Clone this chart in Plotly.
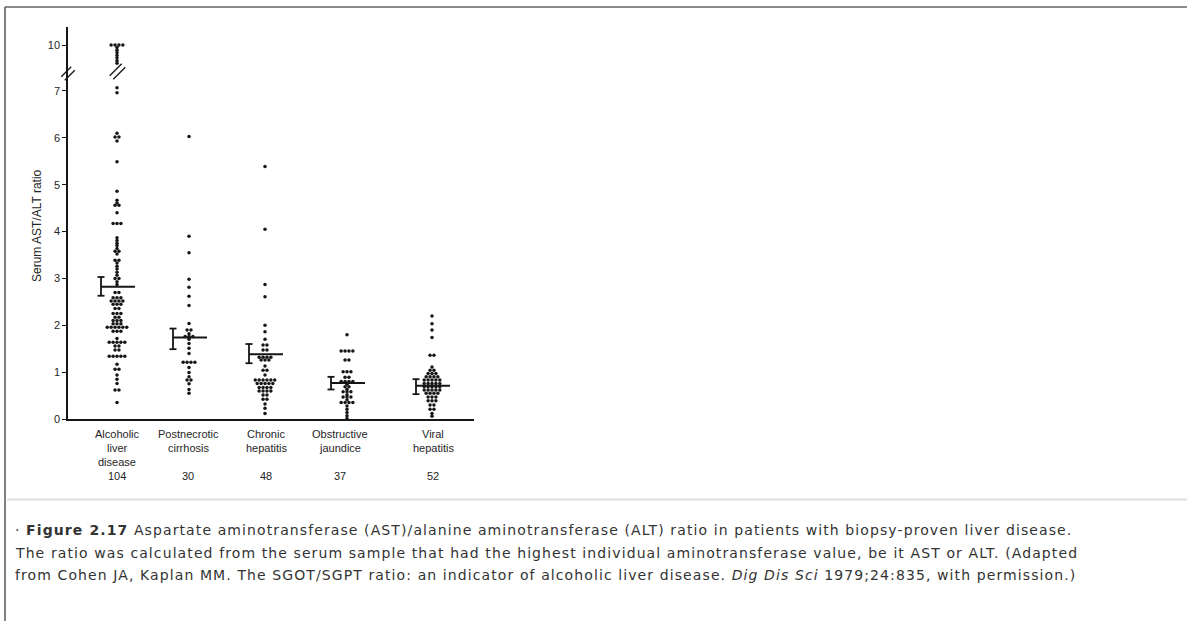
import plotly.graph_objects as go
from collections import Counter

# ---------------- data ----------------
categories = ["Alcoholic liver disease", "Postnecrotic cirrhosis", "Chronic hepatitis",
              "Obstructive jaundice", "Viral hepatitis"]
label_lines = [["Alcoholic", "liver", "disease"], ["Postnecrotic", "cirrhosis"],
               ["Chronic", "hepatitis"], ["Obstructive", "jaundice"], ["Viral", "hepatitis"]]
n_patients = [104, 30, 48, 37, 52]

alcoholic = [10.0, 10.0, 10.0, 10.0, 9.87, 9.74, 9.61, 9.48, 9.35, 9.22, 9.09,
             7.07, 6.96, 6.10, 6.02, 6.02, 5.93, 5.49, 4.86,
             4.67, 4.61, 4.56, 4.56, 4.40, 4.17, 4.17, 4.17,
             3.87, 3.81, 3.75, 3.70, 3.64, 3.58, 3.58, 3.52, 3.39, 3.39, 3.33,
             3.26, 3.20, 3.13, 3.07, 3.00, 3.00, 2.93, 2.87,
             2.70, 2.70, 2.59, 2.59, 2.59, 2.52, 2.52, 2.52, 2.52,
             2.45, 2.45, 2.45, 2.36, 2.36, 2.25, 2.25, 2.25, 2.17, 2.17,
             2.10, 2.10, 2.10, 2.03, 2.03, 2.03,
             1.96, 1.96, 1.96, 1.96, 1.96, 1.96, 1.87, 1.87, 1.87, 1.72,
             1.64, 1.64, 1.64, 1.64, 1.64, 1.56, 1.56, 1.47, 1.47,
             1.34, 1.34, 1.34, 1.34, 1.34, 1.17, 1.06, 1.06,
             0.94, 0.85, 0.76, 0.62, 0.62, 0.35]
postnecrotic = [6.03, 3.90, 3.55, 2.98, 2.81, 2.62, 2.42, 2.04, 1.90, 1.90, 1.82,
                1.76, 1.76, 1.76, 1.70, 1.61, 1.51, 1.40, 1.21, 1.21, 1.21, 1.21,
                1.10, 0.99, 0.90, 0.83, 0.83, 0.75, 0.63, 0.55]
chronic = [5.39, 4.05, 2.87, 2.61, 2.00, 1.86, 1.70, 1.58, 1.58, 1.47, 1.47,
           1.32, 1.32, 1.32, 1.32, 1.26, 1.26, 1.26, 1.13, 1.04, 1.04, 0.94,
           0.83, 0.83, 0.83, 0.83, 0.83, 0.83, 0.76, 0.76, 0.76, 0.76, 0.76,
           0.67, 0.67, 0.67, 0.67, 0.60, 0.60, 0.60, 0.60, 0.51, 0.51,
           0.42, 0.42, 0.32, 0.23, 0.12]
obstructive = [1.80, 1.45, 1.45, 1.45, 1.45, 1.26, 1.26, 1.01, 1.01, 1.01,
               0.89, 0.89, 0.80, 0.80, 0.80, 0.80, 0.74, 0.69, 0.69, 0.63,
               0.58, 0.58, 0.58, 0.52, 0.47, 0.47, 0.47, 0.41,
               0.35, 0.35, 0.35, 0.35, 0.28, 0.21, 0.14, 0.07, 0.01]
viral = [2.20, 2.03, 1.90, 1.74, 1.36, 1.36, 1.11, 1.04, 1.04, 0.97, 0.97, 0.97,
         0.90, 0.90, 0.90, 0.90, 0.83, 0.83, 0.83, 0.83, 0.83,
         0.76, 0.76, 0.76, 0.76, 0.76, 0.69, 0.69, 0.69, 0.69, 0.69,
         0.62, 0.62, 0.62, 0.62, 0.62, 0.55, 0.55, 0.55, 0.55,
         0.47, 0.47, 0.47, 0.39, 0.39, 0.39, 0.30, 0.30, 0.21, 0.21, 0.12, 0.06]
series = [alcoholic, postnecrotic, chronic, obstructive, viral]

means = [2.82, 1.74, 1.38, 0.77, 0.71]
se_low = [2.63, 1.49, 1.19, 0.63, 0.53]
se_high = [3.03, 1.93, 1.60, 0.90, 0.85]

ytick_values = [0, 1, 2, 3, 4, 5, 6, 7, 10]
ytick_labels = ["0", "1", "2", "3", "4", "5", "6", "7", "10"]

caption_lines = [
    "· <b>Figure 2.17</b> Aspartate aminotransferase (AST)/alanine aminotransferase (ALT) ratio in patients with biopsy-proven liver disease.",
    "The ratio was calculated from the serum sample that had the highest individual aminotransferase value, be it AST or ALT. (Adapted",
    "from Cohen JA, Kaplan MM. The SGOT/SGPT ratio: an indicator of alcoholic liver disease. <i>Dig Dis Sci</i> 1979;24:835, with permission.)",
]

# ---------------- layout constants ----------------
W, H = 1187, 621
ML, PR, PT, PB = 68, 474, 27, 419          # plot area (pixels)
PW, PH = PR - ML, PB - PT
UNIT = 46.86                               # pixels per ratio unit
YMAX = PH / UNIT
group_x = [49, 121, 197, 279, 364]         # x axis units (1 unit = 1 px)
label_x = [49, 120, 198, 272, 365]
DOT_STEP = 3.9
BREAK_VAL = 7.5                            # values above are on the upper segment
TOP_POS = (PB - 45) / UNIT                 # plotted position of "10"
UPPER_SCALE = 0.43
BREAK_POS = (PB - 73) / UNIT


def ymap(v):
    return v if v <= BREAK_VAL else TOP_POS - (10 - v) * UPPER_SCALE


def px2x(px):
    return (px - ML) / PW


def py2y(py):
    return (PB - py) / PH


ink = "#161616"
fig = go.Figure()

# dots
for gi, vals in enumerate(series):
    xs, ys = [], []
    counts = Counter(vals)
    for v, n in counts.items():
        for k in range(n):
            xs.append(group_x[gi] + (k - (n - 1) / 2) * DOT_STEP)
            ys.append(ymap(v))
    fig.add_trace(go.Scatter(x=xs, y=ys, mode="markers", cliponaxis=False,
                             marker=dict(size=3.5, color=ink, line=dict(width=0)),
                             name=categories[gi], showlegend=False, hoverinfo="y"))

# mean lines and SE bars
mx, my, ex, ey = [], [], [], []
for gi in range(len(categories)):
    gx = group_x[gi]
    bx = gx - 16
    mx += [bx, gx + 18, None]
    my += [means[gi], means[gi], None]
    ex += [bx, bx, None, bx - 3.5, bx + 3.5, None, bx - 3.5, bx + 3.5, None]
    ey += [se_low[gi], se_high[gi], None, se_low[gi], se_low[gi], None,
           se_high[gi], se_high[gi], None]
fig.add_trace(go.Scatter(x=mx, y=my, mode="lines", line=dict(color=ink, width=2),
                         showlegend=False, hoverinfo="skip", cliponaxis=False))
fig.add_trace(go.Scatter(x=ex, y=ey, mode="lines", line=dict(color=ink, width=1.8),
                         showlegend=False, hoverinfo="skip", cliponaxis=False))

shapes = []
# axis break marks (paper refs so they are not clipped)
for cpx, cpy, half in [(68, 73.5, 5), (117.5, 71.5, 6)]:
    for off in (-1.8, 1.8):
        shapes.append(dict(type="line", xref="paper", yref="paper",
                           x0=px2x(cpx - half + off), x1=px2x(cpx + half + off),
                           y0=py2y(cpy + half + off), y1=py2y(cpy - half + off),
                           line=dict(color=ink, width=1.3)))
# page frame and separator
shapes.append(dict(type="line", xref="paper", yref="paper", x0=px2x(5), x1=px2x(W),
                   y0=py2y(7), y1=py2y(7), line=dict(color="#666", width=1.5)))
shapes.append(dict(type="line", xref="paper", yref="paper", x0=px2x(5), x1=px2x(5),
                   y0=py2y(7), y1=py2y(H), line=dict(color="#555", width=1.5)))
shapes.append(dict(type="line", xref="paper", yref="paper", x0=px2x(7), x1=px2x(W),
                   y0=py2y(499.5), y1=py2y(499.5), line=dict(color="#dddddd", width=2)))

annotations = []
lab_font = dict(family="Liberation Sans, Arial", size=11, color="#262626")
for gi, lines in enumerate(label_lines):
    for li, t in enumerate(lines):
        annotations.append(dict(text=t, xref="x", yref="paper", x=label_x[gi], y=0,
                                yanchor="middle", xanchor="center", showarrow=False,
                                yshift=-(14.5 + 14.2 * li), font=lab_font))
    annotations.append(dict(text=str(n_patients[gi]), xref="x", yref="paper",
                            x=label_x[gi], y=0, yanchor="middle", xanchor="center",
                            showarrow=False, yshift=-57, font=lab_font))
annotations.append(dict(text="Serum AST/ALT ratio", xref="paper", yref="paper",
                        x=px2x(37), y=py2y(226), textangle=-90, showarrow=False,
                        xanchor="center", yanchor="middle",
                        font=dict(family="Liberation Sans, Arial", size=12, color="#262626")))
cap_font = dict(family="DejaVu Sans, Verdana", size=14, color="#333333")
for li, t in enumerate(caption_lines):
    annotations.append(dict(text='<span style="letter-spacing:1.1px">' + t + '</span>',
                            xref="paper", yref="paper", x=px2x(13),
                            y=py2y(530 + 22.5 * li), xanchor="left", yanchor="middle",
                            showarrow=False, font=cap_font, align="left"))

fig.update_layout(
    width=W, height=H, autosize=False,
    margin=dict(l=ML, r=W - PR, t=PT, b=H - PB, pad=0),
    paper_bgcolor="white", plot_bgcolor="white",
    shapes=shapes, annotations=annotations,
    xaxis=dict(range=[0, PW], showgrid=False, zeroline=False, showticklabels=False,
               ticks="", showline=True, linecolor=ink, linewidth=1.5, fixedrange=True),
    yaxis=dict(range=[0, YMAX], showgrid=False, zeroline=False, showline=True,
               linecolor=ink, linewidth=1.5, ticks="outside", ticklen=4, tickwidth=1.2,
               tickcolor=ink, tickvals=[ymap(v) for v in ytick_values], ticktext=ytick_labels,
               tickfont=dict(family="Liberation Sans, Arial", size=11, color="#262626"),
               fixedrange=True),
)

fig.write_html("out.html")
